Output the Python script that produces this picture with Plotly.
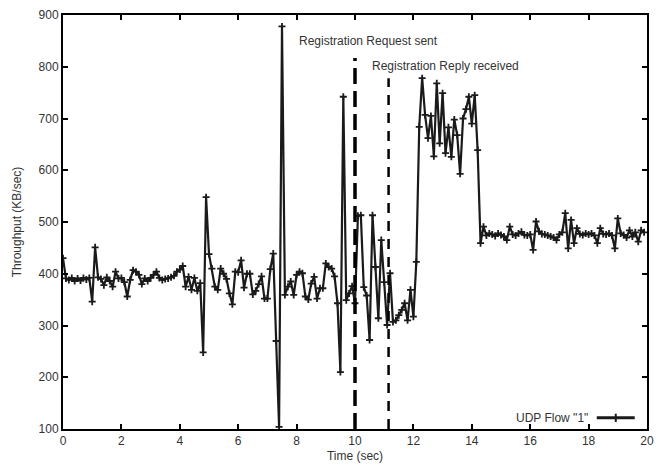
import plotly.graph_objects as go

# ---- data (KB/sec), sampled every 0.1 s ----
t_step = 0.1
phase_before = [
    430, 391, 388, 392, 386, 391, 387, 392, 389, 392,
    346, 451, 393, 390, 378, 393, 386, 375, 404, 391,
    392, 384, 356, 388, 407, 404, 398, 380, 391, 386,
    392, 398, 404, 392, 388, 390, 391, 393, 396, 404,
    408, 415, 375, 394, 369, 392, 367, 382, 248, 548,
    438, 410, 375, 369, 410, 400, 390, 362, 341, 404,
    403, 426, 373, 400, 400, 360, 367, 380, 395, 352,
    352, 409, 439, 270, 104, 878, 359, 375, 385, 359,
    398, 404, 401, 356, 350, 381, 394, 352, 372, 372,
    420, 413, 410, 395, 343, 210, 742, 349, 362, 376,
]
phase_registration = [
    343, 512, 513, 374, 358, 272, 513, 413, 314, 465,
    384, 301, 401, 307, 310, 320, 330, 343, 310, 369,
    317, 423, 684, 778, 707, 662, 705, 627, 768, 652,
    749, 633, 683, 626, 698, 668, 593, 700, 718, 742,
    690, 745, 639, 459, 491,
]
phase_after = [
    474, 478, 476, 473, 478,
    475, 472, 465, 491, 476, 474, 478, 481, 475, 474,
    476, 446, 501, 482, 477, 476, 474, 472, 470, 465,
    476, 480, 517, 449, 504, 459, 488, 477, 475, 478,
    476, 478, 474, 459, 488, 477, 476, 478, 474, 449,
    507, 478, 475, 470, 484, 472, 480, 462, 484, 480,
]
throughput = phase_before + phase_registration + phase_after
time = [round(i * t_step, 1) for i in range(len(throughput))]

event_times = [10.0, 11.15]
event_labels = ["Registration Request sent", "Registration Reply received"]
series_name = 'UDP Flow "1"'
x_ticks = list(range(0, 21, 2))
y_ticks = list(range(100, 901, 100))

FONT = "Liberation Sans, Arial, sans-serif"
TXT = "#333333"
INK = "#1a1a1a"

fig = go.Figure()
fig.add_trace(go.Scatter(
    x=time, y=throughput, mode="lines+markers", name=series_name,
    line=dict(color=INK, width=2.2),
    marker=dict(symbol="cross-thin", size=5, line=dict(width=1.8, color=INK)),
    showlegend=False,
))

shapes = [
    dict(type="line", xref="x", yref="y", x0=event_times[0], x1=event_times[0],
         y0=100, y1=817, line=dict(color="black", width=3.5, dash="16px,7px")),
    dict(type="line", xref="x", yref="y", x0=event_times[1], x1=event_times[1],
         y0=100, y1=778, line=dict(color="black", width=2.5, dash="10px,8px")),
    # legend key
    dict(type="line", xref="paper", yref="paper", x0=0.914, x1=0.979, y0=0.027, y1=0.027,
         line=dict(color=INK, width=3)),
    dict(type="line", xref="paper", yref="paper", x0=0.9465, x1=0.9465, y0=0.017, y1=0.037,
         line=dict(color=INK, width=2)),
]

annotations = [
    dict(x=8.02, y=850, xref="x", yref="y", text=event_labels[0], showarrow=False,
         xanchor="left", yanchor="middle", font=dict(family=FONT, size=12, color=TXT)),
    dict(x=10.52, y=801, xref="x", yref="y", text=event_labels[1], showarrow=False,
         xanchor="left", yanchor="middle", font=dict(family=FONT, size=12, color=TXT)),
    dict(x=0.902, y=0.027, xref="paper", yref="paper", text=series_name, showarrow=False,
         xanchor="right", yanchor="middle", font=dict(family=FONT, size=12, color=TXT)),
]

axis_common = dict(
    showgrid=False, zeroline=False, showline=True, linecolor="black", linewidth=2,
    mirror="ticks", ticks="inside", ticklen=5, tickwidth=1.5, tickcolor="black",
    tickfont=dict(family=FONT, size=12, color=TXT), automargin=False,
)

fig.update_layout(
    width=669, height=470,
    margin=dict(l=63, r=22, t=15, b=41),
    paper_bgcolor="white", plot_bgcolor="white",
    xaxis=dict(range=[0, 20], tickvals=x_ticks,
               title=dict(text="Time (sec)", font=dict(family=FONT, size=12, color=TXT), standoff=4),
               **axis_common),
    yaxis=dict(range=[100, 900], tickvals=y_ticks,
               title=dict(text="Throughput (KB/sec)", font=dict(family=FONT, size=12, color=TXT), standoff=14),
               **axis_common),
    shapes=shapes, annotations=annotations,
)

fig.write_html("out.html", config={"displayModeBar": False},
               post_script="document.body.style.margin='0';document.body.style.overflow='hidden';")
